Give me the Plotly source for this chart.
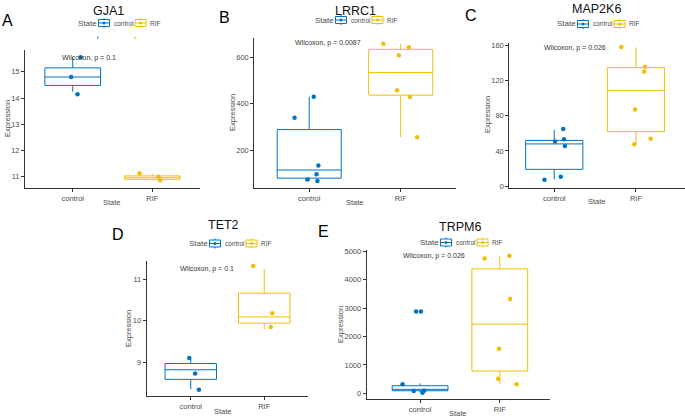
import plotly.graph_objects as go

# ---------------- data ----------------
genes = ["GJA1", "LRRC1", "MAP2K6", "TET2", "TRPM6"]
letters = ["A", "B", "C", "D", "E"]
p_labels = ["Wilcoxon, p = 0.1", "Wilcoxon, p = 0.0087", "Wilcoxon, p = 0.026",
            "Wilcoxon, p = 0.1", "Wilcoxon, p = 0.026"]
groups = ["control", "RIF"]

# box statistics: [q1, median, q3, lower whisker, upper whisker]
gja1_control_box = [14.48, 14.80, 15.15, 14.24, 15.55]
gja1_rif_box = [10.90, 10.96, 11.03, 10.86, 11.10]
lrrc1_control_box = [80, 115, 289, 68, 430]
lrrc1_rif_box = [437, 534, 634, 257, 658]
map2k6_control_box = [19, 48, 52, 7.6, 64]
map2k6_rif_box = [62, 109, 135, 48, 158]
tet2_control_box = [8.59, 8.82, 8.97, 8.35, 9.07]
tet2_rif_box = [9.94, 10.09, 10.66, 9.79, 11.23]
trpm6_control_box = [91, 140, 267, 30, 351]
trpm6_rif_box = [783, 2434, 4377, 316, 4812]

# individual samples (value) and their horizontal jitter (in category units)
gja1_control = [15.55, 14.80, 14.14]
gja1_control_jit = [0.10, -0.02, 0.06]
gja1_rif = [11.13, 11.00, 10.86]
gja1_rif_jit = [-0.16, 0.08, 0.10]

lrrc1_control = [340, 430, 134, 97, 74, 68]
lrrc1_control_jit = [-0.16, 0.05, 0.10, 0.08, -0.02, 0.09]
lrrc1_rif = [658, 643, 609, 458, 429, 256]
lrrc1_rif_jit = [-0.19, 0.09, -0.02, -0.04, 0.10, 0.18]

map2k6_control = [7.2, 10.6, 45.6, 50.9, 53.2, 65]
map2k6_control_jit = [-0.12, 0.08, 0.13, 0.01, 0.12, 0.11]
map2k6_rif = [158.4, 136, 130.7, 87.4, 53.9, 47.5]
map2k6_rif_jit = [-0.18, 0.11, 0.10, -0.01, 0.18, -0.02]

tet2_control = [9.10, 8.73, 8.34]
tet2_control_jit = [-0.02, 0.06, 0.11]
tet2_rif = [11.31, 10.18, 9.85]
tet2_rif_jit = [-0.15, 0.11, 0.09]

trpm6_control = [316, 81, 21, 91, 2880, 2880]
trpm6_control_jit = [-0.22, -0.08, 0.03, 0.05, -0.05, 0.01]
trpm6_rif = [4742, 4836, 3316, 1567, 513, 316]
trpm6_rif_jit = [-0.19, 0.12, 0.13, -0.01, -0.02, 0.21]

y_ticks = [[11, 12, 13, 14, 15], [200, 400, 600], [0, 40, 80, 120, 160],
           [9, 10, 11], [0, 1000, 2000, 3000, 4000, 5000]]

boxes = [(gja1_control_box, gja1_rif_box), (lrrc1_control_box, lrrc1_rif_box),
         (map2k6_control_box, map2k6_rif_box), (tet2_control_box, tet2_rif_box),
         (trpm6_control_box, trpm6_rif_box)]
points = [((gja1_control, gja1_control_jit), (gja1_rif, gja1_rif_jit)),
          ((lrrc1_control, lrrc1_control_jit), (lrrc1_rif, lrrc1_rif_jit)),
          ((map2k6_control, map2k6_control_jit), (map2k6_rif, map2k6_rif_jit)),
          ((tet2_control, tet2_control_jit), (tet2_rif, tet2_rif_jit)),
          ((trpm6_control, trpm6_control_jit), (trpm6_rif, trpm6_rif_jit))]

# ---------------- layout (pixel geometry) ----------------
W, H = 685, 418
def fx(px): return px / W
def fy(py): return 1 - py / H

panels = [
    dict(xp=(25, 200), yp=(50, 187.7), xr=(0.4, 2.6), yr=(10.58, 15.83),
         title=(108, 11), letter=(7, 20), legend=(76, 23), lab=(1.2, 15.54),
         ytitle=(7, 119), xtitle=(112, 202)),
    dict(xp=(254.3, 455.6), yp=(37.7, 187.7), xr=(0.4, 2.6), yr=(39, 684),
         title=(355, 11), letter=(224, 17.5), legend=(313, 20), lab=(1.205, 661),
         ytitle=(232, 113), xtitle=(355, 202)),
    dict(xp=(509.3, 685), yp=(43, 187.5), xr=(0.45, 2.6), yr=(-1.7, 163.1),
         title=(596, 9), letter=(470.5, 15.5), legend=(555, 24), lab=(1.25, 157.7),
         ytitle=(487, 115), xtitle=(597, 201)),
    dict(xp=(146.7, 308.3), yp=(260.7, 396), xr=(0.4, 2.6), yr=(8.19, 11.44),
         title=(223, 225), letter=(118, 234), legend=(187, 243.5), lab=(1.22, 11.23),
         ytitle=(128, 328), xtitle=(223, 411)),
    dict(xp=(366.7, 550), yp=(250, 399.3), xr=(0.33, 2.63), yr=(-210, 5040),
         title=(460, 226.5), letter=(323, 231), legend=(418, 242.5), lab=(1.18, 4824),
         ytitle=(340, 325), xtitle=(458, 413)),
]

colors = {"control": "#0073C2", "RIF": "#EFC000"}
FONT = "Liberation Sans, Arial, sans-serif"
GREY = "#4D4D4D"

fig = go.Figure()
annotations = []
shapes = []
layout = dict(width=W, height=H, margin=dict(l=0, r=0, t=0, b=0),
              plot_bgcolor="white", paper_bgcolor="white",
              font=dict(family=FONT, color=GREY, size=8), showlegend=False)

def txt(text, x, y, size, color, xanchor="center", angle=0, xref="paper", yref="paper"):
    annotations.append(dict(text=text, x=x, y=y, xref=xref, yref=yref, showarrow=False,
                            xanchor=xanchor, yanchor="middle", textangle=angle,
                            font=dict(size=size, color=color, family=FONT)))

def pline(x0, y0, x1, y1, color, width=1):
    shapes.append(dict(type="line", xref="paper", yref="paper", x0=fx(x0), x1=fx(x1),
                       y0=fy(y0), y1=fy(y1), line=dict(color=color, width=width)))

def legend_key(x0, yc, color):
    # box-plot style legend key (pixel geometry)
    pline(x0 + 5.5, yc - 5, x0 + 5.5, yc + 5, color)
    shapes.append(dict(type="rect", xref="paper", yref="paper", x0=fx(x0), x1=fx(x0 + 11),
                       y0=fy(yc - 3.5), y1=fy(yc + 3.5), fillcolor="white",
                       line=dict(color=color, width=1)))
    pline(x0, yc, x0 + 11, yc, color)
    shapes.append(dict(type="circle", xref="paper", yref="paper", x0=fx(x0 + 4), x1=fx(x0 + 7),
                       y0=fy(yc - 1.5), y1=fy(yc + 1.5), fillcolor=color,
                       line=dict(color=color, width=0)))

for i, p in enumerate(panels):
    n = "" if i == 0 else str(i + 1)
    xa, ya = "x" + n, "y" + n
    for g_i, g in enumerate(groups):
        q1, med, q3, lo, hi = boxes[i][g_i]
        fig.add_trace(go.Box(
            x=[g_i + 1], q1=[q1], median=[med], q3=[q3], lowerfence=[lo], upperfence=[hi],
            width=0.7, whiskerwidth=0, name=g, xaxis=xa, yaxis=ya, boxpoints=False,
            line=dict(color=colors[g], width=1), fillcolor="rgba(255,255,255,0)",
            hoverinfo="skip"))
    for g_i, g in enumerate(groups):
        vals, jit = points[i][g_i]
        fig.add_trace(go.Scatter(
            x=[g_i + 1 + j for j in jit], y=vals, mode="markers", xaxis=xa, yaxis=ya,
            marker=dict(color=colors[g], size=4.5), hoverinfo="skip"))

    layout["xaxis" + n] = dict(
        domain=[fx(p["xp"][0]), fx(p["xp"][1])], range=list(p["xr"]), anchor=ya,
        tickvals=[1, 2], ticktext=groups, showline=True, linecolor="#333333", linewidth=1,
        ticks="outside", ticklen=3, tickcolor="#333333", showgrid=False, zeroline=False,
        tickfont=dict(size=7.5, color=GREY), fixedrange=True, automargin=False)
    layout["yaxis" + n] = dict(
        domain=[fy(p["yp"][1]), fy(p["yp"][0])], range=list(p["yr"]), anchor=xa,
        tickvals=y_ticks[i], showline=True, linecolor="#333333", linewidth=1,
        ticks="outside", ticklen=3, tickcolor="#333333", showgrid=False, zeroline=False,
        tickfont=dict(size=7.5, color=GREY), fixedrange=True, automargin=False)

    # manual legend: "State" [key] control [key] RIF
    lx, ly = p["legend"]
    txt("State", fx(lx), fy(ly), 8, GREY, xanchor="left")
    legend_key(lx + 22.5, ly, colors["control"])
    txt("control", fx(lx + 36), fy(ly), 6.5, GREY, xanchor="left")
    legend_key(lx + 59, ly, colors["RIF"])
    txt("RIF", fx(lx + 72), fy(ly), 6.5, GREY, xanchor="left")

    txt(genes[i], fx(p["title"][0]), fy(p["title"][1]), 12.5, "#111111")
    txt(letters[i], fx(p["letter"][0]), fy(p["letter"][1]), 16, "#000000")
    txt(p_labels[i], p["lab"][0], p["lab"][1], 7, "#333333", xref=xa, yref=ya)
    txt("Expression", fx(p["ytitle"][0]), fy(p["ytitle"][1]), 7.5, GREY, angle=-90)
    txt("State", fx(p["xtitle"][0]), fy(p["xtitle"][1]), 7.5, GREY)

# small stray marks visible in the reference (legend remnants)
pline(97.8, 36.5, 97.8, 39, colors["control"])
pline(135, 36.5, 135, 39, colors["RIF"])
pline(480, 229, 480, 231, colors["RIF"], width=1.5)

layout["annotations"] = annotations
layout["shapes"] = shapes
fig.update_layout(**layout)
fig.write_html("out.html", config={"displayModeBar": False},
               post_script="document.body.style.margin='0';document.body.style.padding='0';")
